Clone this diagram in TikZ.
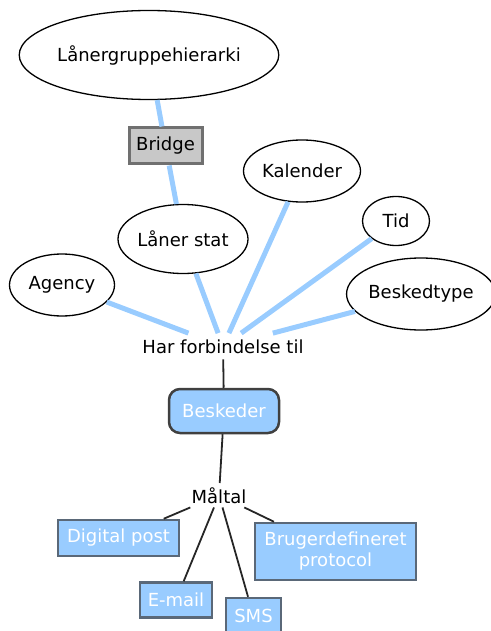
\documentclass[tikz,border=0pt]{standalone}
\usepackage{fontspec}
\setmainfont{DejaVu Sans}
\usetikzlibrary{shapes.geometric}
\definecolor{linkblue}{RGB}{153, 204, 255}
\definecolor{boxgray}{RGB}{200, 200, 200}
\definecolor{edgegray}{RGB}{112, 112, 112}
\definecolor{edgeslate}{RGB}{90, 104, 120}

\begin{document}
\begin{tikzpicture}[
    x=1pt, y=-1pt,
    every node/.style={font=\fontsize{18}{21}\selectfont, inner sep=0pt},
    ent/.style={ellipse, draw=black, line width=1.3pt, fill=white},
    bridgebox/.style={draw=edgegray, line width=3pt, fill=boxgray},
    msgbox/.style={draw=edgeslate, line width=2.5pt, fill=linkblue, text=white},
    rel/.style={fill=white, inner sep=5pt},
    blueline/.style={linkblue, line width=5pt},
    blackline/.style={black!85, line width=1.8pt}
  ]
  \useasboundingbox (0,0) rectangle (490,631);

  % upper part
  \node[ent, minimum width=220pt, minimum height=89pt] (hier) at (149,55) {Lånergruppehierarki};
  \node[bridgebox, minimum width=73pt, minimum height=36pt] (bridge) at (165.5,146) {Bridge};
  \node[ent, minimum width=130pt, minimum height=69pt] (laaner) at (183,239) {Låner stat};
  \node[ent, minimum width=117pt, minimum height=62pt] (kal) at (302,171) {Kalender};
  \node[ent, minimum width=67pt, minimum height=49pt] (tid) at (396,221) {Tid};
  \node[ent, minimum width=105pt, minimum height=62pt] (agency) at (62,285) {Agency};
  \node[ent, minimum width=136pt, minimum height=72pt] (btype) at (421,294) {Beskedtype};

  \node[rel, inner sep=6pt, anchor=base] (har) at (223,353) {Har forbindelse til};

  \draw[blueline] (hier) -- (bridge);
  \draw[blueline] (bridge) -- (laaner);
  \foreach \n in {agency, laaner, kal, tid, btype} {
      \draw[blueline] (\n) -- (har);
    }

  % lower part
  \node[msgbox, draw=black!75, rounded corners=11pt, minimum width=110pt, minimum height=44pt] (besk) at (224,411) {Beskeder};
  \node[rel, inner sep=4pt, anchor=base] (maal) at (219,503) {Måltal};

  \node[msgbox, minimum width=121pt, minimum height=36pt] (dpost) at (118.5,538) {Digital post};
  \node[msgbox, minimum width=72pt, minimum height=35pt] (email) at (176,600) {E-mail};
  \node[msgbox, minimum width=55pt, minimum height=36pt] (sms) at (253.5,616) {SMS};
  \node[msgbox, minimum width=161pt, minimum height=57pt, align=center] (proto) at (335.5,551.5) {Brugerdefineret\\protocol};

  \draw[blackline] (har) -- (besk);
  \draw[blackline] (besk) -- (maal);
  \foreach \n in {dpost, email, sms, proto} {
      \draw[blackline] (maal) -- (\n);
    }

\end{tikzpicture}
\end{document}
